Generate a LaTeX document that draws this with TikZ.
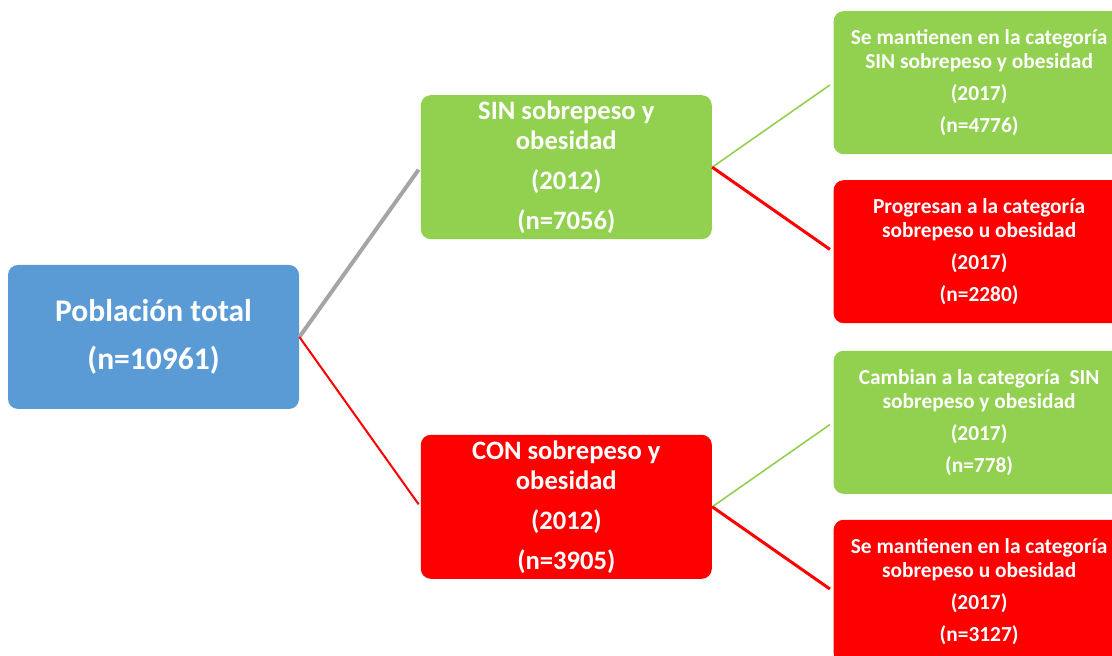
\documentclass[tikz,border=0pt]{standalone}
\usepackage{fontspec}
\setmainfont{Carlito}
\usetikzlibrary{positioning}
\definecolor{popblue}{HTML}{5B9BD5}
\definecolor{singreen}{HTML}{92D050}
\definecolor{conred}{HTML}{FF0000}
\definecolor{lnkgrey}{HTML}{A5A5A5}
\tikzset{
  rootbox/.style  = {rounded corners=5pt, fill=popblue, text=white,
                     minimum width=145.5pt, minimum height=72pt,
                     font=\fontsize{15.75}{24}\selectfont\bfseries, align=center, inner sep=0pt},
  midgreen/.style = {rounded corners=5pt, fill=singreen, text=white,
                     minimum width=145.5pt, minimum height=72pt,
                     font=\fontsize{13.3}{15}\selectfont\bfseries, align=center, inner sep=0pt},
  midred/.style   = {midgreen, fill=conred},
  leafgreen/.style= {rounded corners=5pt, fill=singreen, text=white,
                     minimum width=145.5pt, minimum height=71.5pt,
                     font=\fontsize{10.7}{12}\selectfont\bfseries, align=center, inner sep=0pt},
  leafred/.style  = {leafgreen, fill=conred},
  lnkgray/.style  = {draw=lnkgrey, line width=2pt, shorten >=1.5pt},
  lnkred/.style   = {draw=conred, line width=1pt, shorten >=1.5pt},
  lnkgreen/.style = {draw=singreen, line width=0.8pt, shorten >=2pt},
  lnkredb/.style  = {draw=conred, line width=1.5pt, shorten >=2pt},
}
\begin{document}
\begin{tikzpicture}[x=0.5pt, y=0.5pt, node distance=12.5pt and 60.5pt]
    \useasboundingbox (0,0) rectangle (1112,656);
    % Level 0 : whole population
    \node[rootbox] (pob) at (153.5,319) {Población total\\(n=10961)};

    % Level 1 : 2012
    \node[midgreen, above right=of pob] (sin) {SIN sobrepeso y\\obesidad\\[5pt](2012)\\[5pt](n=7056)};
    \node[midred,   below right=of pob] (con) {CON sobrepeso y\\obesidad\\[5pt](2012)\\[5pt](n=3905)};

    % Level 2 : 2017
    \node[leafgreen, right=of sin, yshift=42.25pt]  (sinsin) {Se mantienen en la categoría\\SIN sobrepeso y obesidad\\[4pt](2017)\\[4pt](n=4776)};
    \node[leafred,   right=of sin, yshift=-42.25pt] (sincon) {Progresan a la categoría\\sobrepeso u obesidad\\[4pt](2017)\\[4pt](n=2280)};
    \node[leafgreen, right=of con, yshift=42.25pt]  (consin) {Cambian a la categoría\ \ SIN\\sobrepeso y obesidad\\[4pt](2017)\\[4pt](n=778)};
    \node[leafred,   right=of con, yshift=-42.25pt] (concon) {Se mantienen en la categoría\\sobrepeso u obesidad\\[4pt](2017)\\[4pt](n=3127)};

    \draw[lnkgray]  (pob.east) -- (sin.west);
    \draw[lnkred]   (pob.east) -- (con.west);
    \draw[lnkgreen] (sin.east) -- (sinsin.west);
    \draw[lnkredb]  (sin.east) -- (sincon.west);
    \draw[lnkgreen] (con.east) -- (consin.west);
    \draw[lnkredb]  (con.east) -- (concon.west);
  \end{tikzpicture}
\end{document}
